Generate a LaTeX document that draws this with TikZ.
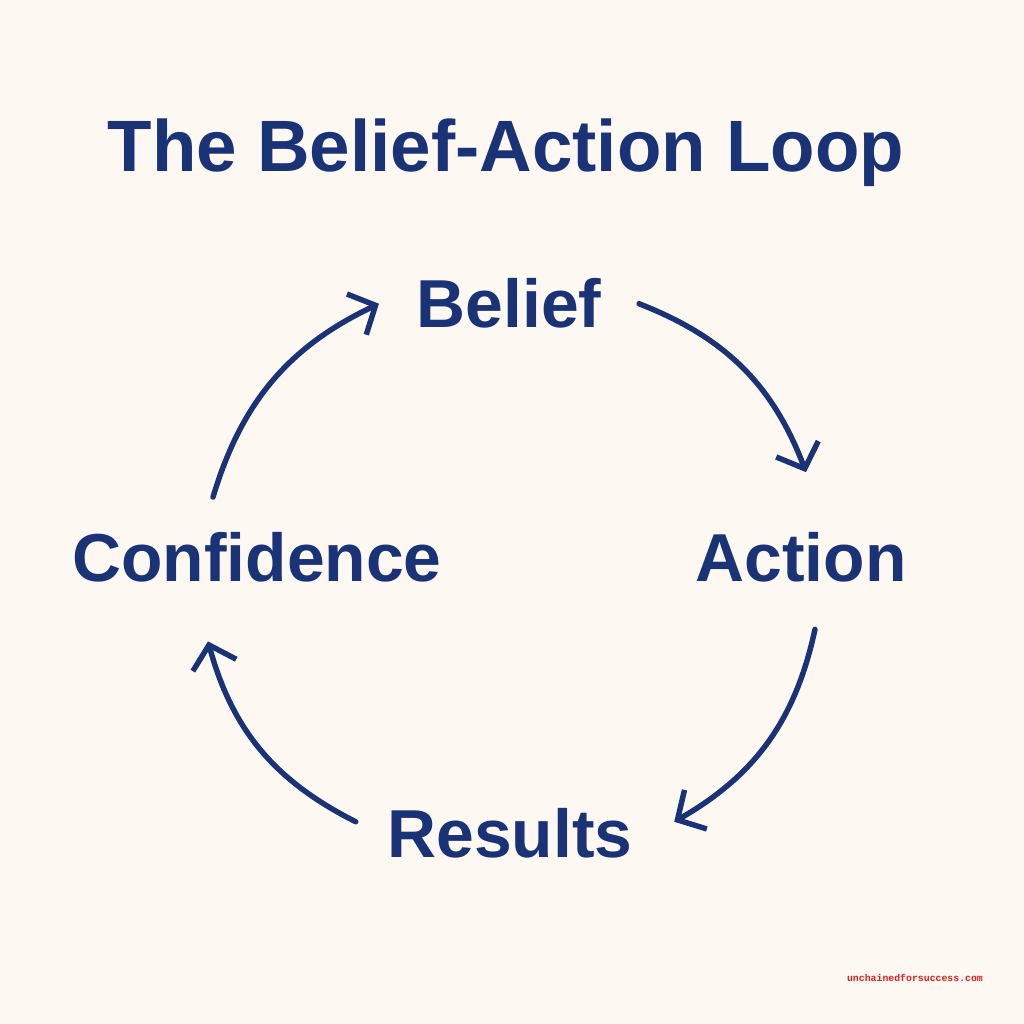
\documentclass[tikz,border=0pt]{standalone}
\usepackage{fontspec}
\setmainfont{Liberation Sans}
\newfontfamily\markfont{Liberation Mono}
\usepackage{tikz}
\usetikzlibrary{arrows.meta}
\definecolor{paper}{RGB}{253,248,241}
\definecolor{navy}{RGB}{26,50,118}
\definecolor{markred}{RGB}{225,30,30}

\begin{document}
\begin{tikzpicture}[
    label/.style={anchor=base, inner sep=0pt, text=navy,
      font=\fontsize{19.3pt}{23pt}\selectfont\bfseries},
    loop/.style={draw=navy, line width=1.55pt, line cap=round, line join=round,
      -{Straight Barb[length=2.1mm, width=4.5mm]}},
  ]
    \fill[paper] (0,0) rectangle (10.24,10.24);
    \useasboundingbox (0,0) rectangle (10.24,10.24);

    \node[label, font=\fontsize{20.7pt}{25pt}\selectfont\bfseries] (title) at (5.06,8.52)
      {The Belief-Action Loop};

    \node[label] (belief)     at (5.09,6.96) {Belief};
    \node[label] (action)     at (8.01,4.42) {Action};
    \node[label] (results)    at (5.10,1.66) {Results};
    \node[label] (confidence) at (2.57,4.42) {Confidence};

    \draw[loop] ([shift={(0.37,0)}]belief.east) to[bend left=24]
      ([shift={(0.05,0.60)}]action.north);
    \draw[loop] ([shift={(0.14,-0.46)}]action.south) to[bend left=24]
      ([shift={(0.41,0.12)}]results.east);
    \draw[loop] ([shift={(-0.31,0.12)}]results.west) to[bend left=24]
      ([shift={(-0.49,-0.58)}]confidence.south);
    \draw[loop] ([shift={(-0.44,0.35)}]confidence.north) to[bend left=24]
      ([shift={(-0.37,0)}]belief.west);

    \node[anchor=base, inner sep=0pt, text=markred,
      font=\fontsize{2.8pt}{3pt}\selectfont\markfont\bfseries] (mark) at (9.15,0.43)
      {unchainedforsuccess.com};
  \end{tikzpicture}
\end{document}
